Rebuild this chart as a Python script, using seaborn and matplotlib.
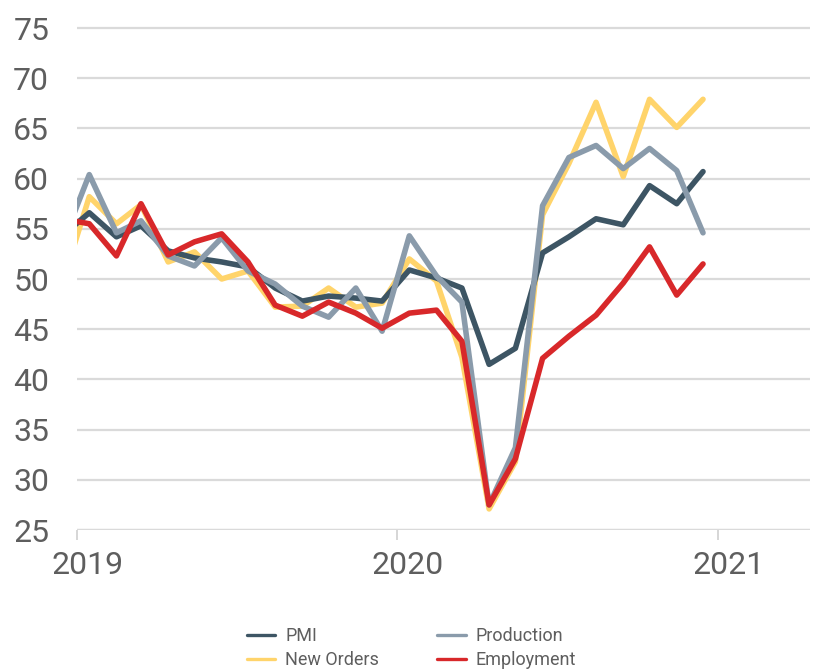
import matplotlib
matplotlib.use("Agg")
import matplotlib.pyplot as plt
import matplotlib.transforms as mtransforms
from matplotlib.lines import Line2D
import seaborn as sns
import pandas as pd
import numpy as np

# ---- data (monthly, Dec 2018 .. Dec 2020) ----
month_start = "2018-12-01"
month_end = "2020-12-01"
pmi = [54.3, 56.6, 54.2, 55.3, 52.8, 52.1, 51.7, 51.2, 49.1, 47.8, 48.3, 48.1, 47.8,
       50.9, 50.1, 49.1, 41.5, 43.1, 52.6, 54.2, 56.0, 55.4, 59.3, 57.5, 60.7]
new_orders = [49.5, 58.2, 55.5, 57.4, 51.7, 52.7, 50.0, 50.8, 47.2, 47.3, 49.1, 47.2, 47.6,
              52.0, 49.8, 42.2, 27.1, 31.8, 56.4, 61.5, 67.6, 60.2, 67.9, 65.1, 67.9]
production = [53.5, 60.4, 54.6, 55.8, 52.3, 51.3, 54.1, 50.8, 49.5, 47.3, 46.2, 49.1, 44.8,
              54.3, 50.3, 47.7, 27.5, 33.2, 57.3, 62.1, 63.3, 61.0, 63.0, 60.8, 54.6]
employment = [56.0, 55.5, 52.3, 57.5, 52.4, 53.7, 54.5, 51.7, 47.4, 46.3, 47.7, 46.6, 45.1,
              46.6, 46.9, 43.8, 27.5, 32.1, 42.1, 44.3, 46.4, 49.6, 53.2, 48.4, 51.5]
series_names = ["PMI", "New Orders", "Production", "Employment"]
year_ticks = ["2019-01-01", "2020-01-01", "2021-01-01"]
year_labels = ["2019", "2020", "2021"]
y_ticks = [25, 30, 35, 40, 45, 50, 55, 60, 65, 70, 75]

colors = {"PMI": "#3d5564", "New Orders": "#ffd46b",
          "Production": "#8a9bab", "Employment": "#d8282a"}

dates = pd.date_range(month_start, month_end, freq="MS") + pd.Timedelta(days=14)
df = pd.DataFrame({"date": dates, "PMI": pmi, "New Orders": new_orders,
                   "Production": production, "Employment": employment})
long = df.melt(id_vars="date", var_name="series", value_name="value")

sns.set_theme(style="white")
plt.rcParams["font.family"] = ["Roboto", "DejaVu Sans"]

fig = plt.figure(figsize=(8.23, 6.71), dpi=100)
ax = fig.add_axes([77 / 823, 1 - 530 / 671, (810 - 77) / 823, (530 - 25) / 671])

draw_order = ["New Orders", "PMI", "Production", "Employment"]
sns.lineplot(data=long, x="date", y="value", hue="series", hue_order=draw_order,
             palette=colors, linewidth=4.0, ax=ax, legend=False)
for ln in ax.get_lines():
    ln.set_solid_capstyle("round")

ax.set_xlim(pd.Timestamp("2019-01-01"), pd.Timestamp("2021-04-16"))
ax.set_ylim(25, 75.3)
ax.set_yticks(y_ticks)
ax.set_yticklabels([str(v) for v in y_ticks])
ax.set_xticks([pd.Timestamp(d) for d in year_ticks])
ax.set_xticklabels(year_labels)
ax.set_xlabel("")
ax.set_ylabel("")

ax.grid(axis="y", color="#dadada", linewidth=1.6)
ax.set_axisbelow(True)
for s in ["top", "right", "left", "bottom"]:
    ax.spines[s].set_visible(False)
ax.axhline(25, color="#dadada", linewidth=1.6, zorder=0.5)

ax.tick_params(axis="y", length=0, pad=20, labelsize=23, labelcolor="#5e5e5e")
ax.tick_params(axis="x", length=7, width=1.2, color="#d0d0d0", direction="out",
               pad=8, labelsize=23, labelcolor="#5e5e5e", bottom=True)

offset = mtransforms.ScaledTranslation(11 / 100, 0, fig.dpi_scale_trans)
for lab in ax.get_xticklabels():
    lab.set_transform(lab.get_transform() + offset)

legend_order = ["PMI", "New Orders", "Production", "Employment"]
handles = [Line2D([0], [0], color=colors[n], linewidth=2.4) for n in legend_order]
leg = fig.legend(handles, legend_order, loc="lower center", bbox_to_anchor=(0.5, -0.011),
                 ncol=2, frameon=False, fontsize=13, handlelength=1.6,
                 handletextpad=0.55, columnspacing=3.2, labelspacing=0.33,
                 borderpad=0.0)
for t in leg.get_texts():
    t.set_color("#5e5e5e")

fig.savefig("out.png", dpi=100)
